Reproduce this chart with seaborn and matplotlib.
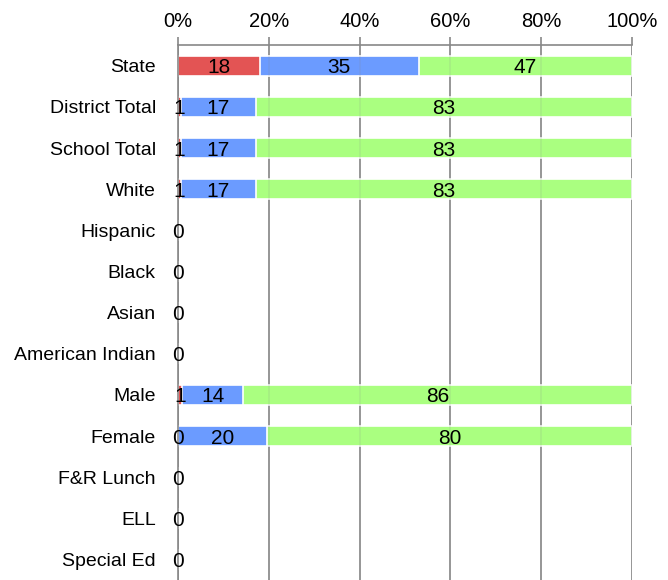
import numpy as np
import pandas as pd
import seaborn as sns
import matplotlib
import matplotlib.pyplot as plt
from matplotlib.ticker import FixedLocator, PercentFormatter
matplotlib.use("Agg")

groups = ["State", "District Total", "School Total", "White", "Hispanic", "Black",
          "Asian", "American Indian", "Male", "Female", "F&R Lunch", "ELL", "Special Ed"]
red_pct = [18, 0.6, 0.6, 0.6, 0, 0, 0, 0, 0.8, 0, 0, 0, 0]
blue_pct = [35, 16.6, 16.6, 16.6, 0, 0, 0, 0, 13.6, 19.6, 0, 0, 0]
green_pct = [47, 82.8, 82.8, 82.8, 0, 0, 0, 0, 85.6, 80.4, 0, 0, 0]
colors = ["#E35454", "#6B9BFF", "#AAFF80"]

df = pd.DataFrame({"group": groups, "red": red_pct, "blue": blue_pct, "green": green_pct})
df["c_red"] = df["red"]
df["c_blue"] = df["c_red"] + df["blue"]
df["c_green"] = df["c_blue"] + df["green"]

sns.set_style("white")
plt.rcParams["font.family"] = ["Liberation Sans", "DejaVu Sans"]
plt.rcParams["text.color"] = "black"
plt.rcParams["xtick.labelcolor"] = "black"
plt.rcParams["ytick.labelcolor"] = "black"

fig = plt.figure(figsize=(6.68, 5.80), dpi=100)
ax = fig.add_axes([0.2665, 0.0, 0.6795, 0.922])

# stacked bars drawn back to front (cumulative totals)
for col, c in zip(["c_green", "c_blue", "c_red"], colors[::-1]):
    sns.barplot(data=df, x=col, y="group", orient="h", color=c, saturation=1,
                width=0.5, edgecolor="white", linewidth=1.2, ax=ax, zorder=2)

# faint grid showing through bars, as in the original
for xv in range(20, 101, 20):
    ax.axvline(xv, color="#888888", linewidth=1.2, alpha=0.15, zorder=3)

fs = 15
for i, row in df.iterrows():
    ax.text(row["red"] / 2, i + 0.05, "%.0f" % row["red"], ha="center", va="center",
            fontsize=fs, zorder=5)
    if row["blue"] > 0:
        ax.text(row["c_red"] + row["blue"] / 2, i + 0.05, "%.0f" % row["blue"],
                ha="center", va="center", fontsize=fs, zorder=5)
    if row["green"] > 0:
        ax.text(row["c_blue"] + row["green"] / 2, i + 0.05, "%.0f" % row["green"],
                ha="center", va="center", fontsize=fs, zorder=5)

ax.set_xlim(0, 100)
ax.set_ylim(len(groups) - 0.5, -0.5)
ax.set_xlabel("")
ax.set_ylabel("")
ax.xaxis.tick_top()
ax.set_xticks(np.arange(0, 101, 20))
ax.xaxis.set_major_formatter(PercentFormatter(decimals=0))
ax.tick_params(axis="x", direction="out", length=6, width=1.2, color="#888888",
               labelsize=14.5, pad=4)
ax.grid(axis="x", color="#888888", linewidth=1.2, zorder=0)
ax.set_axisbelow(True)

ax.yaxis.set_minor_locator(FixedLocator(np.arange(-0.5, len(groups), 1)))
ax.tick_params(axis="y", which="major", length=0, labelsize=14, pad=16)
ax.tick_params(axis="y", which="minor", direction="out", length=6, width=1.2,
               color="#888888")

for s in ["right", "bottom"]:
    ax.spines[s].set_visible(False)
for s in ["left", "top"]:
    ax.spines[s].set_color("#888888")
    ax.spines[s].set_linewidth(1.2)

fig.savefig("out.png", dpi=100)
plt.close(fig)
